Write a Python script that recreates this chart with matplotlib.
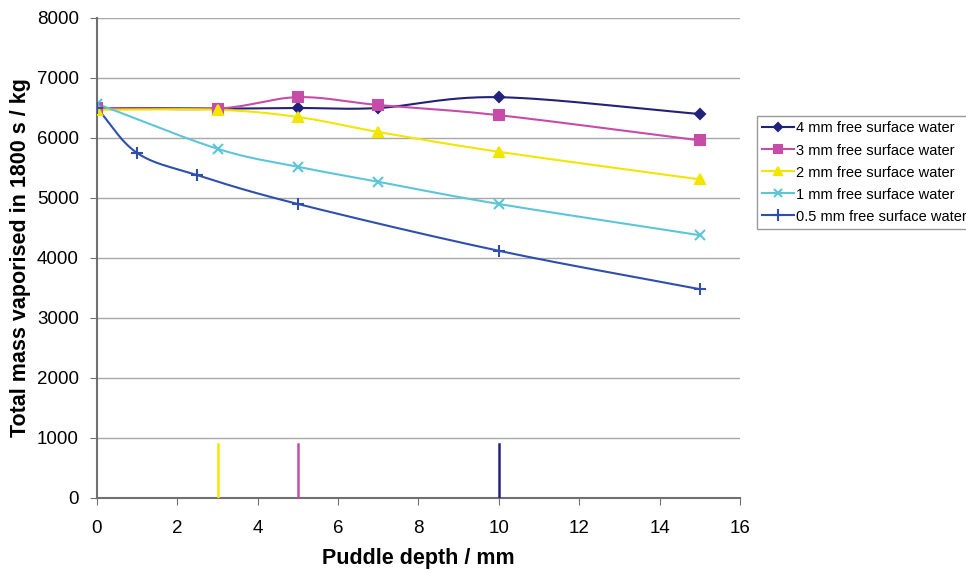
import numpy as np
import matplotlib
matplotlib.use("Agg")
import matplotlib.pyplot as plt

plt.rcParams['font.family'] = ['Liberation Sans', 'DejaVu Sans']

# data
x_main = [0, 3, 5, 7, 10, 15]
y_4mm = [6500, 6490, 6500, 6500, 6680, 6400]
y_3mm = [6500, 6490, 6680, 6550, 6380, 5960]
y_2mm = [6470, 6470, 6350, 6100, 5770, 5310]
y_1mm = [6570, 5820, 5520, 5270, 4900, 4380]
x_05mm = [0, 1, 2.5, 5, 10, 15]
y_05mm = [6500, 5750, 5380, 4900, 4120, 3480]

labels = ['4 mm free surface water', '3 mm free surface water', '2 mm free surface water',
          '1 mm free surface water', '0.5 mm free surface water']
colors = ['#22227a', '#c64ca8', '#f2e600', '#5cc6d8', '#2f4fae']
markers = ['D', 's', '^', 'x', '+']
msizes = [5, 7, 7, 7, 9]

# vertical marker lines near the x axis
vline_x = [3, 5, 10]
vline_h = [900, 900, 900]
vline_c = ['#f2e600', '#c64ca8', '#22227a']


def smooth(x, y, n=30):
    # Catmull-Rom style smoothing like Excel's smoothed line
    x = np.asarray(x, float)
    y = np.asarray(y, float)
    px = np.concatenate([[2 * x[0] - x[1]], x, [2 * x[-1] - x[-2]]])
    py = np.concatenate([[2 * y[0] - y[1]], y, [2 * y[-1] - y[-2]]])
    xs, ys = [], []
    for i in range(1, len(px) - 2):
        t = np.linspace(0, 1, n)
        p0, p1, p2, p3 = [np.array([px[j], py[j]]) for j in range(i - 1, i + 3)]
        c1 = p1 + (p2 - p0) / 6
        c2 = p2 - (p3 - p1) / 6
        pts = ((1 - t) ** 3)[:, None] * p1 + (3 * (1 - t) ** 2 * t)[:, None] * c1 \
            + (3 * (1 - t) * t ** 2)[:, None] * c2 + (t ** 3)[:, None] * p2
        xs.extend(pts[:, 0])
        ys.extend(pts[:, 1])
    return xs, ys


fig = plt.figure(figsize=(9.66, 5.73), dpi=100)
ax = fig.add_axes([0.1004, 0.1309, 0.6656, 0.8377])

series = [(x_main, y_4mm), (x_main, y_3mm), (x_main, y_2mm), (x_main, y_1mm), (x_05mm, y_05mm)]
for (xs, ys), lab, c, m, ms in zip(series, labels, colors, markers, msizes):
    sx, sy = smooth(xs, ys)
    ax.plot(sx, sy, color=c, lw=1.5, zorder=3)
    ax.plot(xs, ys, linestyle='none', marker=m, color=c, ms=ms, mew=1.5, zorder=4)
    ax.plot([], [], color=c, lw=1.5, marker=m, ms=ms - 1, mew=1.5, label=lab)

for vx, vh, vc in zip(vline_x, vline_h, vline_c):
    ax.plot([vx, vx], [0, vh], color=vc, lw=1.8, zorder=3)

ax.set_xlim(0, 16)
ax.set_ylim(0, 8000)
ax.set_xticks(np.arange(0, 17, 2))
ax.set_yticks(np.arange(0, 8001, 1000))
ax.yaxis.grid(True, color='#a8a8a8', lw=1)
ax.set_axisbelow(True)
for s in ['top', 'right']:
    ax.spines[s].set_visible(False)
for s in ['left', 'bottom']:
    ax.spines[s].set_color('#707070')
    ax.spines[s].set_linewidth(1.5)
ax.tick_params(direction='out', length=5, color='#707070', labelsize=13.5)
ax.tick_params(axis='x', pad=11)
ax.tick_params(axis='y', pad=8)

ax.set_xlabel('Puddle depth / mm', fontsize=15.5, fontweight='bold', labelpad=8)
ax.set_ylabel('Total mass vaporised in 1800 s / kg', fontsize=15.5, fontweight='bold', labelpad=4)

ax.legend(loc='upper left', bbox_to_anchor=(1.026, 0.795), frameon=True, fancybox=False,
          edgecolor='#808080', fontsize=10.5, handlelength=2.2, handletextpad=0.15,
          borderpad=0.35, labelspacing=0.55, borderaxespad=0)

fig.savefig('out.png', dpi=100)
